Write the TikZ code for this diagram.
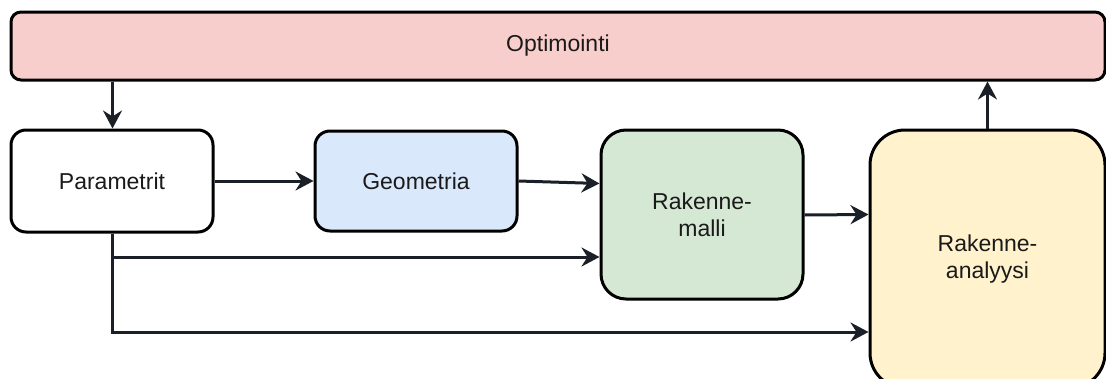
\documentclass[tikz,border=0pt]{standalone}
\usepackage{fontspec}
\setmainfont{Liberation Sans}
\usetikzlibrary{arrows.meta}
\definecolor{linecol}{HTML}{1B1F27}
\definecolor{txtcol}{HTML}{1A1A1A}
\definecolor{optfill}{HTML}{F8CECC}
\definecolor{geofill}{HTML}{DAE8FC}
\definecolor{rmfill}{HTML}{D5E8D4}
\definecolor{rafill}{HTML}{FFF2CC}
\tikzset{
  blk/.style={draw=black, line width=3pt, inner sep=0pt, align=center,
    text=txtcol, font=\fontsize{23}{27}\selectfont},
  arr/.style={draw=linecol, line width=3pt,
    -{Stealth[length=18pt,width=19pt,inset=6pt]}},
  plain/.style={draw=linecol, line width=3pt}
}
\begin{document}
\begin{tikzpicture}[x=1pt,y=-1pt]
\useasboundingbox (0,0) rectangle (1106,378);
% blocks
\node[blk, fill=optfill, rounded corners=10pt, minimum width=1094pt, minimum height=68pt] (opt) at (558,46) {Optimointi};
\node[blk, fill=white, rounded corners=15pt, minimum width=202pt, minimum height=102pt] (par) at (112,181) {Parametrit};
\node[blk, fill=geofill, rounded corners=15pt, minimum width=202pt, minimum height=100pt] (geo) at (416,181) {Geometria};
\node[blk, fill=rmfill, rounded corners=25pt, minimum width=202pt, minimum height=169pt] (rm) at (702,214.5) {Rakenne-\\malli};
\node[blk, fill=rafill, rounded corners=35pt, minimum width=235pt, minimum height=258pt] (ra) at (987.5,259) {Rakenne-\\analyysi};
% junction points of the parameter feed lines
\coordinate (mid) at (112.5,257);
\coordinate (low) at (112.5,332);
% connectors
\draw[arr] (opt.south -| low) -- (par.north -| low);
\draw[arr] (par.east) -- (geo.west);
\draw[arr] (geo.east) -- ([yshift=31pt]rm.west);
\draw[arr] ([yshift=-0.5pt]rm.east) -- (ra.west |- rm.east);
\draw[plain] (par.south -| low) -- ([yshift=-1.5pt]low);
\draw[arr] (mid) -- (rm.west |- mid);
\draw[arr] (low) -- (ra.west |- low);
\draw[arr] (ra.north) -- (opt.south -| ra.north);
\end{tikzpicture}
\end{document}
